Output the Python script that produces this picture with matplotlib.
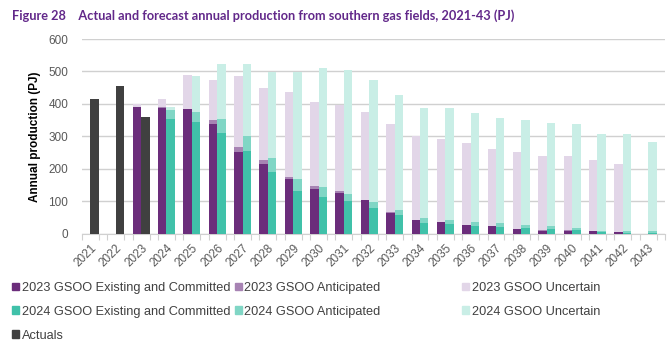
import numpy as np
import matplotlib.pyplot as plt
import matplotlib.patches as mpatches

plt.rcParams['font.family'] = ['Liberation Sans', 'DejaVu Sans']

years = list(range(2021, 2044))
nan = np.nan

actuals = [416, 455, 359] + [nan] * 20

gsoo23_existing = [nan, nan, 389, 386, 383, 338, 252, 214, 169, 138, 126, 103, 62, 42, 35, 25, 22, 13, 9, 9, 9, 5, 0]
gsoo23_anticipated = [nan, nan, 0, 3, 2, 12, 14, 12, 6, 8, 4, 1, 4, 1, 0, 1, 0, 2, 2, 1, 0, 1, 0]
gsoo23_uncertain = [nan, nan, 10, 27, 105, 124, 219, 223, 263, 260, 267, 271, 272, 259, 257, 252, 238, 235, 229, 230, 217, 208, 0]

gsoo24_existing = [nan, nan, nan, 352, 344, 310, 255, 190, 131, 113, 100, 80, 57, 33, 30, 24, 20, 18, 14, 11, 4, 2, 2]
gsoo24_anticipated = [nan, nan, nan, 28, 32, 43, 46, 42, 37, 29, 22, 18, 14, 15, 12, 10, 12, 8, 9, 7, 4, 6, 6]
gsoo24_uncertain = [nan, nan, nan, 9, 109, 171, 223, 267, 331, 367, 381, 376, 355, 338, 344, 337, 324, 323, 317, 319, 299, 299, 274]

C23 = ['#6b2d7b', '#a783b3', '#e2d6e8']
C24 = ['#40c1a9', '#80d6c5', '#c9eee6']
C_ACT = '#404040'
TITLE_C = '#62288a'
TICK_C = '#595959'

fig = plt.figure(figsize=(6.72, 3.51), dpi=100)
ax = fig.add_axes([82 / 672, 1 - 233.5 / 351, 583 / 672, 194.5 / 351])

# each year takes 3 slots: 2023 GSOO, 2024 GSOO (or actuals), gap
idx = np.arange(len(years))
x_left = idx * 3 + 0.5
x_right = idx * 3 + 1.5


def stack(ax, x, series, colors):
    bottom = np.zeros(len(x))
    for vals, col in zip(series, colors):
        v = np.nan_to_num(np.array(vals, dtype=float))
        ax.bar(x, v, width=1.0, bottom=bottom, color=col, linewidth=0, zorder=3)
        bottom += v


stack(ax, x_left, [gsoo23_existing, gsoo23_anticipated, gsoo23_uncertain], C23)
stack(ax, x_right, [gsoo24_existing, gsoo24_anticipated, gsoo24_uncertain], C24)
ax.bar(x_right, np.nan_to_num(np.array(actuals, dtype=float)), width=1.0, color=C_ACT, linewidth=0, zorder=3)

ax.set_xlim(0, len(years) * 3)
ax.set_ylim(0, 600)
ax.set_yticks(range(0, 601, 100))
ax.yaxis.grid(True, color='#d0d0d0', linewidth=1.0, zorder=0)
ax.set_axisbelow(True)

ax.set_xticks(idx * 3 + 1)
ax.set_xticklabels([str(y) for y in years], rotation=45, ha='right', va='top',
                   rotation_mode='anchor', fontsize=8.5, color=TICK_C)
ax.set_xticks(np.arange(0, len(years) * 3 + 1), minor=True)
ax.tick_params(axis='x', which='major', length=0, pad=6)
ax.tick_params(axis='x', which='minor', length=4, color='#d0d0d0', width=0.8)
ax.tick_params(axis='y', length=0, labelsize=8.5, labelcolor=TICK_C, pad=10)

for s in ['left', 'right', 'top']:
    ax.spines[s].set_visible(False)
ax.spines['bottom'].set_color('#d0d0d0')

ax.set_ylabel('Annual production (PJ)', fontsize=8.5, fontweight='bold', labelpad=5)

fig.text(12.5 / 672, 1 - 15.5 / 351, 'Figure 28    Actual and forecast annual production from southern gas fields, 2021-43 (PJ)',
         fontsize=9.2, fontweight='bold', color=TITLE_C, family='Lato', va='center')

# legend
h = lambda c, l: mpatches.Patch(color=c, label=l)
handles1 = [h(C23[0], '2023 GSOO Existing and Committed'), h(C24[0], '2024 GSOO Existing and Committed'),
            h(C_ACT, 'Actuals'), h(C23[1], '2023 GSOO Anticipated'), h(C24[1], '2024 GSOO Anticipated')]
handles2 = [h(C23[2], '2023 GSOO Uncertain'), h(C24[2], '2024 GSOO Uncertain')]
kw = dict(frameon=False, fontsize=9.2, handlelength=0.55, handleheight=0.55, handletextpad=0.2,
          columnspacing=0.35, labelspacing=0.92, borderaxespad=0, borderpad=0, labelcolor='#404040')
leg1 = fig.legend(handles=handles1, ncol=2, loc='upper left',
                  bbox_to_anchor=(12 / 672, 1 - 282 / 351), **kw)
leg2 = fig.legend(handles=handles2, ncol=1, loc='upper left',
                  bbox_to_anchor=(462 / 672, 1 - 282 / 351), **kw)

fig.savefig('out.png', dpi=100)
